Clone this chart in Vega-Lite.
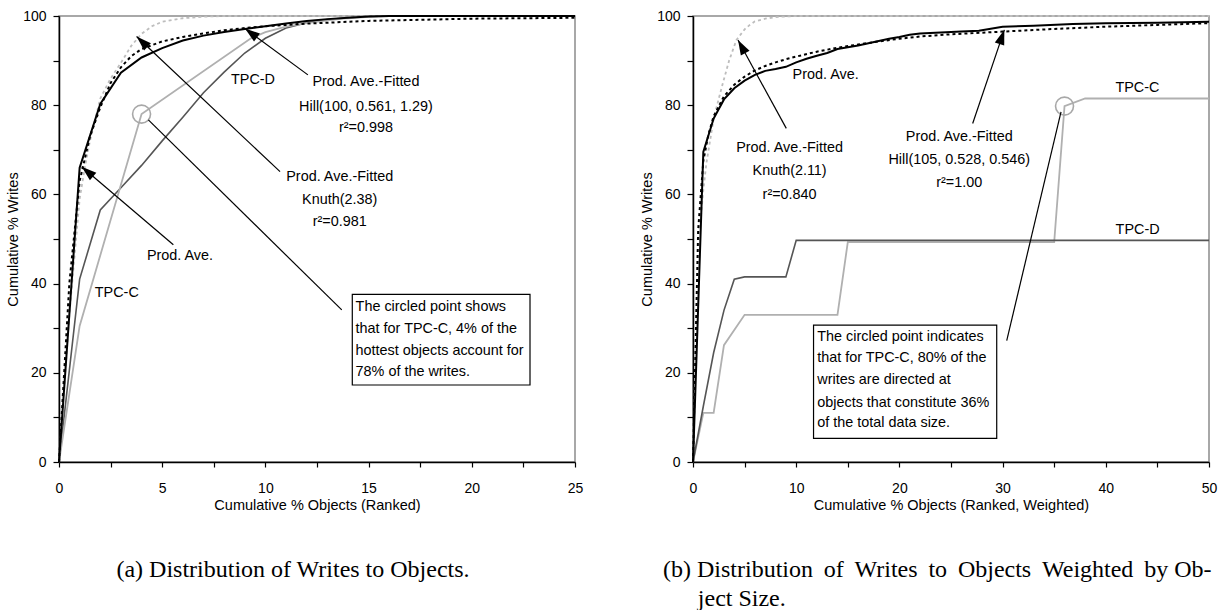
{
  "$schema": "https://vega.github.io/schema/vega-lite/v6.json",
  "background": "white",
  "padding": {"left": 4, "top": 8, "right": 5, "bottom": 0},
  "bounds": "flush",
  "spacing": 118,
  "config": {
    "view": {"stroke": "#8c8c8c", "strokeWidth": 1.5},
    "axis": {"grid": false, "domainColor": "#000", "domainWidth": 1.5, "tickColor": "#000", "tickWidth": 1.2,
      "labelFont": "Liberation Sans, Arial, sans-serif", "labelFontSize": 14, "labelColor": "#000",
      "titleFont": "Liberation Sans, Arial, sans-serif", "titleFontSize": 14.5, "titleFontWeight": "normal", "titleColor": "#000",
      "labelOverlap": false, "labelFlush": false},
    "axisX": {"tickSize": 5, "labelPadding": 14, "titlePadding": 3},
    "axisY": {"tickSize": 6, "labelPadding": 7, "titlePadding": 2},
    "text": {"font": "Liberation Sans, Arial, sans-serif", "fontSize": 14.4, "color": "#000"}
  },
  "datasets": {
    "L": [
      {"s": "PA", "x": 0, "y": 0}, {"s": "PA", "x": 1, "y": 66}, {"s": "PA", "x": 2, "y": 80.3}, {"s": "PA", "x": 3, "y": 87.3}, {"s": "PA", "x": 4, "y": 90.7}, {"s": "PA", "x": 5, "y": 92.8}, {"s": "PA", "x": 6, "y": 94.5}, {"s": "PA", "x": 7, "y": 95.6}, {"s": "PA", "x": 8, "y": 96.4}, {"s": "PA", "x": 9, "y": 97.1}, {"s": "PA", "x": 10, "y": 97.7}, {"s": "PA", "x": 11, "y": 98.3}, {"s": "PA", "x": 12, "y": 98.9}, {"s": "PA", "x": 13, "y": 99.3}, {"s": "PA", "x": 14, "y": 99.6}, {"s": "PA", "x": 15, "y": 99.9}, {"s": "PA", "x": 16, "y": 100}, {"s": "PA", "x": 25, "y": 100},
      {"s": "Hill", "x": 0, "y": 0}, {"s": "Hill", "x": 0.5, "y": 40}, {"s": "Hill", "x": 1, "y": 63}, {"s": "Hill", "x": 1.5, "y": 73}, {"s": "Hill", "x": 2, "y": 79.5}, {"s": "Hill", "x": 2.5, "y": 85}, {"s": "Hill", "x": 3, "y": 88.5}, {"s": "Hill", "x": 3.5, "y": 91}, {"s": "Hill", "x": 4, "y": 92.6}, {"s": "Hill", "x": 5, "y": 94.3}, {"s": "Hill", "x": 6, "y": 95.3}, {"s": "Hill", "x": 7, "y": 96.1}, {"s": "Hill", "x": 8, "y": 96.8}, {"s": "Hill", "x": 9, "y": 97.3}, {"s": "Hill", "x": 10, "y": 97.7}, {"s": "Hill", "x": 12, "y": 98.3}, {"s": "Hill", "x": 15, "y": 98.9}, {"s": "Hill", "x": 18, "y": 99.2}, {"s": "Hill", "x": 20, "y": 99.4}, {"s": "Hill", "x": 25, "y": 99.6},
      {"s": "Knuth", "x": 0, "y": 0}, {"s": "Knuth", "x": 0.5, "y": 33}, {"s": "Knuth", "x": 1, "y": 59}, {"s": "Knuth", "x": 1.25, "y": 66}, {"s": "Knuth", "x": 1.5, "y": 72}, {"s": "Knuth", "x": 2, "y": 81.5}, {"s": "Knuth", "x": 2.5, "y": 86}, {"s": "Knuth", "x": 3, "y": 89.5}, {"s": "Knuth", "x": 3.5, "y": 93.3}, {"s": "Knuth", "x": 4, "y": 96}, {"s": "Knuth", "x": 4.5, "y": 97.7}, {"s": "Knuth", "x": 5, "y": 98.7}, {"s": "Knuth", "x": 6, "y": 99.5}, {"s": "Knuth", "x": 7, "y": 99.85}, {"s": "Knuth", "x": 8, "y": 100}, {"s": "Knuth", "x": 25, "y": 100},
      {"s": "TPCC", "x": 0, "y": 0}, {"s": "TPCC", "x": 1, "y": 30.5}, {"s": "TPCC", "x": 4, "y": 78}, {"s": "TPCC", "x": 9.3, "y": 95}, {"s": "TPCC", "x": 10, "y": 96.4}, {"s": "TPCC", "x": 11, "y": 97.6}, {"s": "TPCC", "x": 12, "y": 98.4}, {"s": "TPCC", "x": 13, "y": 99}, {"s": "TPCC", "x": 14, "y": 99.5}, {"s": "TPCC", "x": 15, "y": 99.8}, {"s": "TPCC", "x": 16, "y": 100}, {"s": "TPCC", "x": 25, "y": 100},
      {"s": "TPCD", "x": 0, "y": 0}, {"s": "TPCD", "x": 1, "y": 41}, {"s": "TPCD", "x": 2, "y": 56.5}, {"s": "TPCD", "x": 3, "y": 61.5}, {"s": "TPCD", "x": 4, "y": 66.5}, {"s": "TPCD", "x": 5, "y": 72}, {"s": "TPCD", "x": 6, "y": 77.3}, {"s": "TPCD", "x": 7, "y": 82.8}, {"s": "TPCD", "x": 8, "y": 87.4}, {"s": "TPCD", "x": 9, "y": 91.7}, {"s": "TPCD", "x": 10, "y": 95}, {"s": "TPCD", "x": 11, "y": 97.3}, {"s": "TPCD", "x": 12, "y": 98.5}, {"s": "TPCD", "x": 13, "y": 99.2}, {"s": "TPCD", "x": 14, "y": 99.6}, {"s": "TPCD", "x": 15, "y": 99.9}, {"s": "TPCD", "x": 16, "y": 100}, {"s": "TPCD", "x": 25, "y": 100}
    ],
    "R": [
      {"s": "PA", "x": 0, "y": 0}, {"s": "PA", "x": 1, "y": 69.5}, {"s": "PA", "x": 2, "y": 77}, {"s": "PA", "x": 3, "y": 81.3}, {"s": "PA", "x": 4, "y": 83.8}, {"s": "PA", "x": 5, "y": 85.5}, {"s": "PA", "x": 6, "y": 86.8}, {"s": "PA", "x": 7, "y": 87.7}, {"s": "PA", "x": 8, "y": 88.1}, {"s": "PA", "x": 9, "y": 88.6}, {"s": "PA", "x": 10, "y": 89.6}, {"s": "PA", "x": 11, "y": 90.4}, {"s": "PA", "x": 12, "y": 91.1}, {"s": "PA", "x": 13, "y": 91.7}, {"s": "PA", "x": 14, "y": 92.6}, {"s": "PA", "x": 15, "y": 93}, {"s": "PA", "x": 16, "y": 93.4}, {"s": "PA", "x": 17, "y": 93.9}, {"s": "PA", "x": 18, "y": 94.4}, {"s": "PA", "x": 19, "y": 94.9}, {"s": "PA", "x": 20, "y": 95.3}, {"s": "PA", "x": 21, "y": 95.8}, {"s": "PA", "x": 22, "y": 96.1}, {"s": "PA", "x": 24, "y": 96.3}, {"s": "PA", "x": 26, "y": 96.5}, {"s": "PA", "x": 27.7, "y": 96.7}, {"s": "PA", "x": 30, "y": 97.6}, {"s": "PA", "x": 33, "y": 97.8}, {"s": "PA", "x": 36.8, "y": 98.2}, {"s": "PA", "x": 40, "y": 98.4}, {"s": "PA", "x": 45, "y": 98.5}, {"s": "PA", "x": 50, "y": 98.7},
      {"s": "Hill", "x": 0, "y": 0}, {"s": "Hill", "x": 0.5, "y": 52}, {"s": "Hill", "x": 1, "y": 67.5}, {"s": "Hill", "x": 1.5, "y": 73.5}, {"s": "Hill", "x": 2, "y": 77.5}, {"s": "Hill", "x": 3, "y": 82}, {"s": "Hill", "x": 4, "y": 84.6}, {"s": "Hill", "x": 5, "y": 86.4}, {"s": "Hill", "x": 6, "y": 87.8}, {"s": "Hill", "x": 7, "y": 88.8}, {"s": "Hill", "x": 8, "y": 89.6}, {"s": "Hill", "x": 9, "y": 90.3}, {"s": "Hill", "x": 10, "y": 90.9}, {"s": "Hill", "x": 12, "y": 92}, {"s": "Hill", "x": 14, "y": 92.9}, {"s": "Hill", "x": 16, "y": 93.6}, {"s": "Hill", "x": 18, "y": 94.3}, {"s": "Hill", "x": 20, "y": 94.9}, {"s": "Hill", "x": 22, "y": 95.4}, {"s": "Hill", "x": 25, "y": 95.9}, {"s": "Hill", "x": 30, "y": 96.5}, {"s": "Hill", "x": 35, "y": 97.1}, {"s": "Hill", "x": 40, "y": 97.6}, {"s": "Hill", "x": 45, "y": 98}, {"s": "Hill", "x": 50, "y": 98.4},
      {"s": "Knuth", "x": 0, "y": 0}, {"s": "Knuth", "x": 0.3, "y": 30}, {"s": "Knuth", "x": 0.65, "y": 52}, {"s": "Knuth", "x": 1, "y": 61}, {"s": "Knuth", "x": 1.3, "y": 67}, {"s": "Knuth", "x": 2, "y": 77}, {"s": "Knuth", "x": 2.5, "y": 81.5}, {"s": "Knuth", "x": 2.9, "y": 85}, {"s": "Knuth", "x": 3.5, "y": 90}, {"s": "Knuth", "x": 4.2, "y": 94.6}, {"s": "Knuth", "x": 5, "y": 97}, {"s": "Knuth", "x": 5.5, "y": 98}, {"s": "Knuth", "x": 6, "y": 98.8}, {"s": "Knuth", "x": 7, "y": 99.4}, {"s": "Knuth", "x": 8, "y": 99.75}, {"s": "Knuth", "x": 9, "y": 99.9}, {"s": "Knuth", "x": 10, "y": 100}, {"s": "Knuth", "x": 50, "y": 100},
      {"s": "TPCC", "x": 0, "y": 0}, {"s": "TPCC", "x": 1, "y": 11}, {"s": "TPCC", "x": 2, "y": 11}, {"s": "TPCC", "x": 3, "y": 26.2}, {"s": "TPCC", "x": 5, "y": 33}, {"s": "TPCC", "x": 14, "y": 33}, {"s": "TPCC", "x": 15, "y": 49.3}, {"s": "TPCC", "x": 35, "y": 49.3}, {"s": "TPCC", "x": 36, "y": 79.8}, {"s": "TPCC", "x": 38, "y": 81.5}, {"s": "TPCC", "x": 50, "y": 81.5},
      {"s": "TPCD", "x": 0, "y": 0}, {"s": "TPCD", "x": 1, "y": 12.5}, {"s": "TPCD", "x": 2, "y": 24.5}, {"s": "TPCD", "x": 3, "y": 34}, {"s": "TPCD", "x": 4, "y": 41}, {"s": "TPCD", "x": 5, "y": 41.5}, {"s": "TPCD", "x": 9, "y": 41.5}, {"s": "TPCD", "x": 10, "y": 49.7}, {"s": "TPCD", "x": 50, "y": 49.7}
    ],
    "Ltext": [
      {"x": 9.4, "y": 85.6, "t": "TPC-D"},
      {"x": 2.8, "y": 37.8, "t": "TPC-C"},
      {"x": 5.86, "y": 46.2, "t": "Prod. Ave."},
      {"x": 14.87, "y": 85.3, "t": "Prod. Ave.-Fitted"},
      {"x": 14.87, "y": 79.7, "t": "Hill(100, 0.561, 1.29)"},
      {"x": 14.87, "y": 74.9, "t": "r²=0.998"},
      {"x": 13.6, "y": 63.9, "t": "Prod. Ave.-Fitted"},
      {"x": 13.6, "y": 58.7, "t": "Knuth(2.38)"},
      {"x": 13.6, "y": 53.8, "t": "r²=0.981"}
    ],
    "Lbox": [{"x": 14.21, "x2": 22.82, "y": 37.6, "y2": 17.26}],
    "Lboxtext": [
      {"x": 14.37, "y": 34.8, "t": "The circled point shows"},
      {"x": 14.37, "y": 29.9, "t": "that for TPC-C, 4% of the"},
      {"x": 14.37, "y": 25.0, "t": "hottest objects account for"},
      {"x": 14.37, "y": 20.2, "t": "78% of the writes."}
    ],
    "Lline": [
      {"id": "hill", "x": 12.06, "y": 86.8, "x2": 9.01, "y2": 97.2},
      {"id": "knuth", "x": 10.71, "y": 65.1, "x2": 3.76, "y2": 95.4},
      {"id": "pa", "x": 5.54, "y": 48.7, "x2": 1.1, "y2": 66.2},
      {"id": "call", "x": 13.7, "y": 34.1, "x2": 4.33, "y2": 76.7}
    ],
    "Lcircle": [{"x": 4, "y": 78}],
    "Rtext": [
      {"x": 12.85, "y": 86.8, "t": "Prod. Ave."},
      {"x": 9.36, "y": 70.3, "t": "Prod. Ave.-Fitted"},
      {"x": 9.36, "y": 65.3, "t": "Knuth(2.11)"},
      {"x": 9.36, "y": 59.9, "t": "r²=0.840"},
      {"x": 25.8, "y": 72.9, "t": "Prod. Ave.-Fitted"},
      {"x": 25.8, "y": 67.7, "t": "Hill(105, 0.528, 0.546)"},
      {"x": 25.8, "y": 62.6, "t": "r²=1.00"},
      {"x": 43.06, "y": 83.8, "t": "TPC-C"},
      {"x": 43.08, "y": 52.0, "t": "TPC-D"}
    ],
    "Rbox": [{"x": 11.68, "x2": 29.43, "y": 30.7, "y2": 5.3}],
    "Rboxtext": [
      {"x": 12.04, "y": 28.1, "t": "The circled point indicates"},
      {"x": 12.04, "y": 23.25, "t": "that for TPC-C, 80% of the"},
      {"x": 12.04, "y": 18.4, "t": "writes are directed at"},
      {"x": 12.04, "y": 13.3, "t": "objects that constitute 36%"},
      {"x": 12.04, "y": 8.7, "t": "of the total data size."}
    ],
    "Rline": [
      {"id": "knuth", "x": 9.04, "y": 74.8, "x2": 4.36, "y2": 94.6},
      {"id": "hill", "x": 27.1, "y": 75.9, "x2": 30.17, "y2": 96.9},
      {"id": "call", "x": 30.4, "y": 27.2, "x2": 35.66, "y2": 78.5}
    ],
    "Rcircle": [{"x": 36, "y": 79.8}]
  },
  "hconcat": [
    {
      "width": 516,
      "height": 446,
      "title": {"text": "(a) Distribution of Writes to Objects.", "orient": "bottom", "frame": "group", "anchor": "middle", "dx": -24, "offset": 46, "font": "Liberation Serif, Times New Roman, serif", "fontSize": 24, "fontWeight": "normal", "color": "#000"},
      "encoding": {
        "x": {"field": "x", "type": "quantitative", "scale": {"domain": [0, 25], "nice": false},
          "axis": {"title": "Cumulative % Objects (Ranked)", "values": [0, 2.5, 5, 7.5, 10, 12.5, 15, 17.5, 20, 22.5, 25], "labelExpr": "datum.value % 5 == 0 ? datum.label : ''"}},
        "y": {"field": "y", "type": "quantitative", "scale": {"domain": [0, 100], "nice": false},
          "axis": {"title": "Cumulative % Writes", "values": [0, 10, 20, 30, 40, 50, 60, 70, 80, 90, 100], "labelExpr": "datum.value % 20 == 0 ? datum.label : ''"}}
      },
      "layer": [
        {"data": {"name": "L"}, "transform": [{"filter": "datum.s == 'TPCD'"}], "mark": {"type": "line", "color": "#555555", "strokeWidth": 1.6}},
        {"data": {"name": "L"}, "transform": [{"filter": "datum.s == 'TPCC'"}], "mark": {"type": "line", "color": "#b0b0b0", "strokeWidth": 1.8}},
        {"data": {"name": "L"}, "transform": [{"filter": "datum.s == 'Knuth'"}], "mark": {"type": "line", "color": "#bdbdbd", "strokeWidth": 1.8, "strokeDash": [3, 3]}},
        {"data": {"name": "L"}, "transform": [{"filter": "datum.s == 'PA'"}], "mark": {"type": "line", "color": "#000", "strokeWidth": 2}},
        {"data": {"name": "L"}, "transform": [{"filter": "datum.s == 'Hill'"}], "mark": {"type": "line", "color": "#000", "strokeWidth": 2, "strokeDash": [3, 3]}},
        {"data": {"name": "Lcircle"}, "mark": {"type": "point", "shape": "circle", "size": 324, "filled": false, "stroke": "#a8a8a8", "strokeWidth": 1.6, "opacity": 1}},
        {"data": {"name": "Lline"}, "mark": {"type": "rule", "color": "#000", "strokeWidth": 1.2}, "encoding": {"x2": {"field": "x2"}, "y2": {"field": "y2"}}},
        {"data": {"name": "Lline"}, "transform": [{"filter": "datum.id == 'hill'"}], "mark": {"type": "point", "shape": "M0,0L0.33,1L-0.33,1Z", "size": 900, "filled": true, "color": "#000", "opacity": 1, "angle": 306.6}, "encoding": {"x": {"field": "x2", "type": "quantitative"}, "y": {"field": "y2", "type": "quantitative"}}},
        {"data": {"name": "Lline"}, "transform": [{"filter": "datum.id == 'knuth'"}], "mark": {"type": "point", "shape": "M0,0L0.33,1L-0.33,1Z", "size": 900, "filled": true, "color": "#000", "opacity": 1, "angle": 313.3}, "encoding": {"x": {"field": "x2", "type": "quantitative"}, "y": {"field": "y2", "type": "quantitative"}}},
        {"data": {"name": "Lline"}, "transform": [{"filter": "datum.id == 'pa'"}], "mark": {"type": "point", "shape": "M0,0L0.33,1L-0.33,1Z", "size": 900, "filled": true, "color": "#000", "opacity": 1, "angle": 310.5}, "encoding": {"x": {"field": "x2", "type": "quantitative"}, "y": {"field": "y2", "type": "quantitative"}}},
        {"data": {"name": "Lbox"}, "mark": {"type": "rect", "fill": "#fff", "stroke": "#000", "strokeWidth": 1.2}, "encoding": {"x2": {"field": "x2"}, "y2": {"field": "y2"}}},
        {"data": {"name": "Ltext"}, "mark": {"type": "text", "align": "center", "baseline": "middle"}, "encoding": {"text": {"field": "t"}}},
        {"data": {"name": "Lboxtext"}, "mark": {"type": "text", "align": "left", "baseline": "middle"}, "encoding": {"text": {"field": "t"}}}
      ]
    },
    {
      "width": 516,
      "height": 446,
      "title": {"text": ["(b) Distribution \u2009of \u2009Writes \u2009to \u2009Objects \u2009Weighted \u2009by Ob-", "\u200b\u00a0\u00a0\u00a0\u00a0\u00a0\u2009ject Size."], "orient": "bottom", "frame": "group", "anchor": "start", "align": "left", "dx": -30, "offset": 46, "lineHeight": 29, "font": "Liberation Serif, Times New Roman, serif", "fontSize": 24, "fontWeight": "normal", "color": "#000"},
      "encoding": {
        "x": {"field": "x", "type": "quantitative", "scale": {"domain": [0, 50], "nice": false},
          "axis": {"title": "Cumulative % Objects (Ranked, Weighted)", "values": [0, 5, 10, 15, 20, 25, 30, 35, 40, 45, 50], "labelExpr": "datum.value % 10 == 0 ? datum.label : ''"}},
        "y": {"field": "y", "type": "quantitative", "scale": {"domain": [0, 100], "nice": false},
          "axis": {"title": "Cumulative % Writes", "values": [0, 10, 20, 30, 40, 50, 60, 70, 80, 90, 100], "labelExpr": "datum.value % 20 == 0 ? datum.label : ''"}}
      },
      "layer": [
        {"data": {"name": "R"}, "transform": [{"filter": "datum.s == 'TPCC'"}], "mark": {"type": "line", "color": "#b0b0b0", "strokeWidth": 1.8}},
        {"data": {"name": "R"}, "transform": [{"filter": "datum.s == 'TPCD'"}], "mark": {"type": "line", "color": "#555555", "strokeWidth": 1.6}},
        {"data": {"name": "R"}, "transform": [{"filter": "datum.s == 'Knuth'"}], "mark": {"type": "line", "color": "#bdbdbd", "strokeWidth": 1.8, "strokeDash": [3, 3]}},
        {"data": {"name": "R"}, "transform": [{"filter": "datum.s == 'PA'"}], "mark": {"type": "line", "color": "#000", "strokeWidth": 2}},
        {"data": {"name": "R"}, "transform": [{"filter": "datum.s == 'Hill'"}], "mark": {"type": "line", "color": "#000", "strokeWidth": 2, "strokeDash": [3, 3]}},
        {"data": {"name": "Rcircle"}, "mark": {"type": "point", "shape": "circle", "size": 324, "filled": false, "stroke": "#a8a8a8", "strokeWidth": 1.6, "opacity": 1}},
        {"data": {"name": "Rline"}, "mark": {"type": "rule", "color": "#000", "strokeWidth": 1.2}, "encoding": {"x2": {"field": "x2"}, "y2": {"field": "y2"}}},
        {"data": {"name": "Rline"}, "transform": [{"filter": "datum.id == 'knuth'"}], "mark": {"type": "point", "shape": "M0,0L0.33,1L-0.33,1Z", "size": 900, "filled": true, "color": "#000", "opacity": 1, "angle": 331.3}, "encoding": {"x": {"field": "x2", "type": "quantitative"}, "y": {"field": "y2", "type": "quantitative"}}},
        {"data": {"name": "Rline"}, "transform": [{"filter": "datum.id == 'hill'"}], "mark": {"type": "point", "shape": "M0,0L0.33,1L-0.33,1Z", "size": 900, "filled": true, "color": "#000", "opacity": 1, "angle": 18.8}, "encoding": {"x": {"field": "x2", "type": "quantitative"}, "y": {"field": "y2", "type": "quantitative"}}},
        {"data": {"name": "Rbox"}, "mark": {"type": "rect", "fill": "#fff", "stroke": "#000", "strokeWidth": 1.2}, "encoding": {"x2": {"field": "x2"}, "y2": {"field": "y2"}}},
        {"data": {"name": "Rtext"}, "mark": {"type": "text", "align": "center", "baseline": "middle"}, "encoding": {"text": {"field": "t"}}},
        {"data": {"name": "Rboxtext"}, "mark": {"type": "text", "align": "left", "baseline": "middle"}, "encoding": {"text": {"field": "t"}}}
      ]
    }
  ]
}
